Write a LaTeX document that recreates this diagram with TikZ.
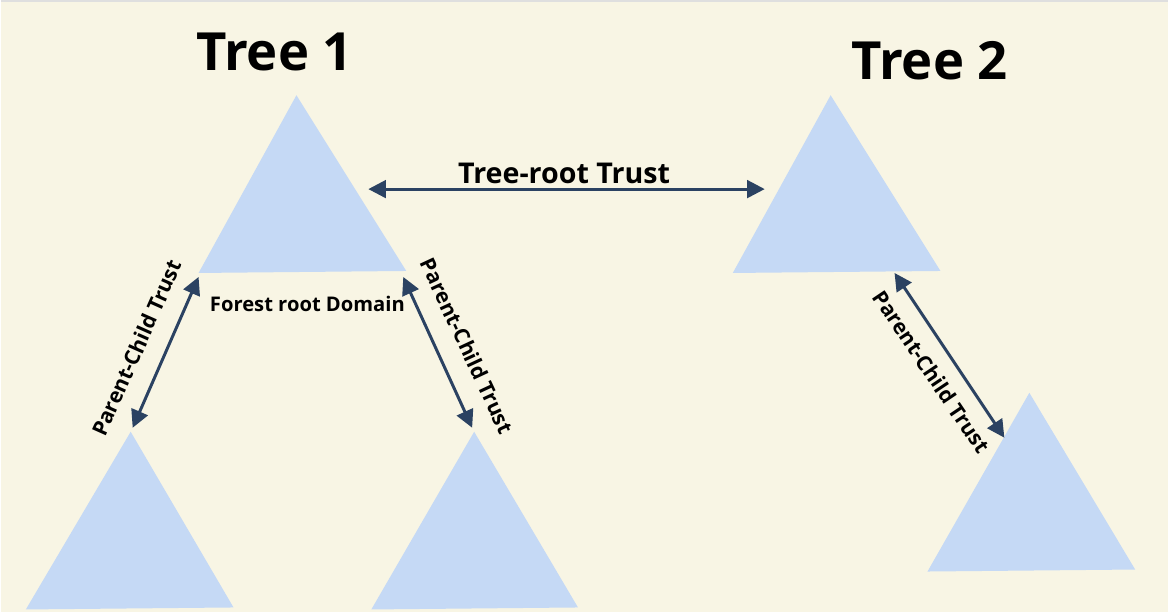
\documentclass[tikz,border=0pt]{standalone}
\usepackage{fontspec}
\setmainfont{Open Sans}
\usetikzlibrary{arrows.meta}
\definecolor{cream}{HTML}{F8F5E4}
\definecolor{skyblue}{HTML}{C5D9F5}
\definecolor{navy}{HTML}{2B4262}

\tikzset{
    domainfill/.style={fill=skyblue, draw=none},
    trust/.style={navy, line width=1.7pt, {Triangle[length=10pt,width=10pt]}-{Triangle[length=10pt,width=10pt]}},
    treetitle/.style={font=\fontsize{30}{32}\selectfont\bfseries},
    pclabel/.style={font=\fontsize{12}{14}\selectfont\bfseries}
}

\begin{document}
\begin{tikzpicture}[x=0.02cm, y=-0.02cm]
    \fill[cream] (0, 0) rectangle (1169, 613);
    \draw[gray!25, line width=1pt] (0, 0.5) -- (1169, 0.5);

    % domains
    \foreach \n / \ax / \ay / \lx / \ly / \rx / \ry in {
        root1/296/95/198/273/406/271,
        childA/130/432/25/610/233/608,
        childB/474/432/371/610/578/608,
        root2/831/95/733/273/941/271,
        childC/1030/393/928/572/1136/570}
        \fill[domainfill] (\ax, \ay) coordinate (\n-top) -- (\lx, \ly) coordinate (\n-left)
            -- (\rx, \ry) coordinate (\n-right) -- cycle;

    % arrow ends
    \coordinate (t1) at (368, 189);
    \coordinate (t2) at (765, 189);
    \coordinate (a1) at (198, 277);
    \coordinate (a2) at (132, 428);
    \coordinate (b1) at (403, 277);
    \coordinate (b2) at (472, 428);
    \coordinate (c1) at (895, 273);
    \coordinate (c2) at (1005, 438);

    \draw[trust] (t1) -- (t2);
    \draw[trust] (a1) -- (a2);
    \draw[trust] (b1) -- (b2);
    \draw[trust] (c1) -- (c2);

    % texts
    \node[treetitle] (tree1) at (274, 52) {Tree 1};
    \node[treetitle] (tree2) at (930, 60) {Tree 2};
    \node[font=\fontsize{16.3}{19}\selectfont\bfseries] (rootlbl) at (564, 173) {Tree-root Trust};
    \node[font=\fontsize{11.5}{13}\selectfont\bfseries] (forest) at (307, 304) {Forest root Domain};
    \node[pclabel, rotate=66] (pcA) at (136, 348) {Parent-Child Trust};
    \node[pclabel, rotate=-65] (pcB) at (467, 346) {Parent-Child Trust};
    \node[pclabel, rotate=-56] (pcC) at (932, 372) {Parent-Child Trust};
\end{tikzpicture}
\end{document}
